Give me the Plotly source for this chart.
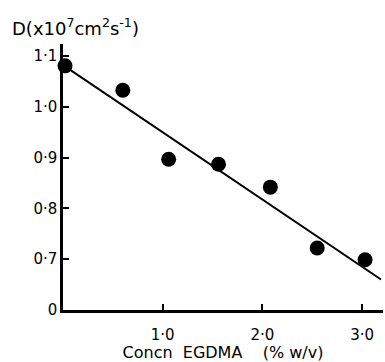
import plotly.graph_objects as go

# Data
conc = [0.02, 0.60, 1.06, 1.56, 2.08, 2.55, 3.03]
diff = [1.081, 1.033, 0.897, 0.887, 0.842, 0.722, 0.699]
fit_x = [0.02, 3.19]
fit_y = [1.080, 0.660]

y_ticks = [0.6, 0.7, 0.8, 0.9, 1.0, 1.1]
y_labels = ["0", "0·7", "0·8", "0·9", "1·0", "1·1"]
x_ticks = [1.0, 2.0, 3.0]
x_labels = ["1·0", "2·0", "3·0"]

FONT = "DejaVu Sans"

fig = go.Figure()
fig.add_trace(go.Scatter(x=fit_x, y=fit_y, mode="lines",
                         line=dict(color="black", width=2), showlegend=False))
fig.add_trace(go.Scatter(x=conc, y=diff, mode="markers",
                         marker=dict(color="black", size=15), showlegend=False,
                         cliponaxis=False))

ytitle = "D(x10<sup>7</sup>cm<sup>2</sup>s<sup>-1</sup>)"

fig.update_layout(
    width=385, height=362,
    margin=dict(l=63, r=2, t=44, b=52),
    paper_bgcolor="white", plot_bgcolor="white",
    font=dict(family=FONT, color="black", size=15),
    xaxis=dict(range=[0.0, 3.21], tickvals=x_ticks, ticktext=x_labels,
               ticks="inside", ticklen=6, tickwidth=1.5, tickcolor="black",
               showline=True, linecolor="black", linewidth=2.5,
               showgrid=False, zeroline=False, automargin=False,
               ticklabelstandoff=9,
               title=dict(text="Concn  EGDMA    (% w/v)", font=dict(size=16), standoff=4),
               tickfont=dict(size=15)),
    yaxis=dict(range=[0.6, 1.124], tickvals=y_ticks, ticktext=y_labels,
               ticks="inside", ticklen=6, tickwidth=1.5, tickcolor="black",
               showline=True, linecolor="black", linewidth=2.5, automargin=False,
               showgrid=False, zeroline=False, tickfont=dict(size=15)),
    annotations=[dict(text=ytitle,
                      xref="paper", yref="paper", x=0, y=1.0, xshift=-53, yshift=3,
                      xanchor="left", yanchor="bottom", showarrow=False,
                      font=dict(size=18))],
)

fig.write_html("out.html", config={"displayModeBar": False},
               post_script="document.body.style.margin='0';")
